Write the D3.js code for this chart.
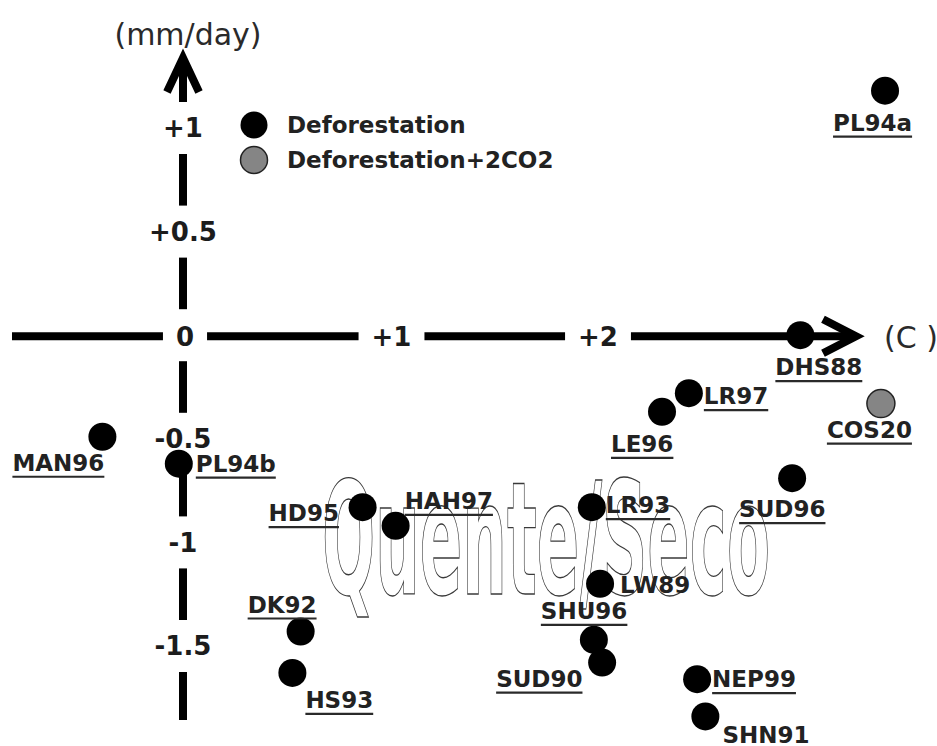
<!DOCTYPE html>
<html>
<head>
<meta charset="utf-8">
<script src="https://cdn.jsdelivr.net/npm/d3@7"></script>
<style>
  body { margin: 0; background: #fff; }
  svg { display: block; }
</style>
</head>
<body>
<svg width="937" height="746"></svg>
<script>
// model experiments: temperature change (C) vs rainfall change (mm/day)
const names = ['PL94a', 'MAN96', 'PL94b', 'HD95', 'HAH97', 'DK92', 'HS93', 'LR93', 'LW89',
  'SHU96', 'SUD90', 'NEP99', 'SHN91', 'LE96', 'LR97', 'DHS88', 'COS20', 'SUD96'];
const tempChange = [3.39, -0.40, -0.03, 0.86, 1.02, 0.56, 0.52, 1.97, 2.01,
  1.98, 2.02, 2.48, 2.52, 2.31, 2.44, 2.98, 3.37, 2.94];
const rainChange = [1.18, -0.49, -0.62, -0.83, -0.92, -1.43, -1.63, -0.83, -1.20,
  -1.47, -1.58, -1.66, -1.84, -0.37, -0.28, 0.0, -0.33, -0.69];
const experiment = [0, 0, 0, 0, 0, 0, 0, 0, 0, 0, 0, 0, 0, 0, 0, 0, 1, 0];
const plainLabels = ['LW89', 'SHN91'];

const seriesNames = ['Deforestation', 'Deforestation+2CO2'];
const xTicks = [0, 1, 2];
const xTickLabels = ['0', '+1', '+2'];
const yTicks = [1, 0.5, 0, -0.5, -1, -1.5];
const yTickLabels = ['+1', '+0.5', '0', '-0.5', '-1', '-1.5'];

// label offset from its dot (left edge, vertical centre)
const labelPlacement = {
  PL94a: [-52, 32], MAN96: [-90, 26], PL94b: [17, 0], HD95: [-94, 6],
  HAH97: [9, -25], DK92: [-53, -27], HS93: [13, 27], LR93: [14, -2],
  LW89: [20, 1], SHU96: [-53, -29], SUD90: [-106, 16], NEP99: [15, 0],
  SHN91: [17, 18], LE96: [-51, 32], LR97: [15, 3], DHS88: [-25, 32],
  COS20: [-54, 26], SUD96: [-53, 31]
};

const seriesColor = ['#000', '#858585'];
const ink = '#1c1c1c';

const x = d3.scaleLinear().domain([0, 2]).range([185, 598]);
const y = d3.scaleLinear().domain([-1.5, 1]).range([646, 128]);

const svg = d3.select('svg');
const x0 = x(0) - 2;
const y0 = y(0) + 1;

const data = names.map((name, i) => ({
  name,
  t: tempChange[i],
  r: rainChange[i],
  s: experiment[i]
}));

// watermark
svg.append('text')
  .attr('x', 322)
  .attr('y', 594)
  .attr('textLength', 448)
  .attr('lengthAdjust', 'spacingAndGlyphs')
  .style('font-family', '"Liberation Sans Narrow", "DejaVu Sans Condensed", "Liberation Sans", sans-serif')
  .style('font-weight', 'bold')
  .style('font-size', '156px')
  .attr('fill', 'none')
  .attr('stroke', '#3a3a3a')
  .attr('stroke-width', 1.3)
  .text('Quente/Seco');

// tick labels
const xt = svg.append('g')
  .selectAll('text')
  .data(xTicks)
  .join('text')
  .attr('x', d => x(d))
  .attr('y', y0)
  .attr('dy', '0.36em')
  .attr('text-anchor', 'middle')
  .style('font', 'bold 26px "DejaVu Sans", sans-serif')
  .attr('fill', ink)
  .text((d, i) => xTickLabels[i]);

const yt = svg.append('g')
  .selectAll('text')
  .data(yTicks.filter(d => d !== 0))
  .join('text')
  .attr('x', x0)
  .attr('y', d => y(d))
  .attr('dy', '0.36em')
  .attr('text-anchor', 'middle')
  .style('font', 'bold 26px "DejaVu Sans", sans-serif')
  .attr('fill', ink)
  .text(d => yTickLabels[yTicks.indexOf(d)]);

// axis segments broken around the tick labels
const axis = svg.append('g')
  .attr('stroke', '#000')
  .attr('stroke-width', 8)
  .attr('fill', 'none');

const xStops = [12];
xt.each(function (d) {
  const w = this.getBBox().width / 2 + 13;
  xStops.push(x(d) - w, x(d) + w);
});
xStops.push(856);
for (let i = 0; i < xStops.length; i += 2) {
  axis.append('line')
    .attr('x1', xStops[i]).attr('x2', xStops[i + 1])
    .attr('y1', y0).attr('y2', y0);
}

const yStops = [58];
yTicks.forEach(d => yStops.push(y(d) - 26, y(d) + 26));
yStops.push(720);
for (let i = 0; i < yStops.length; i += 2) {
  axis.append('line')
    .attr('x1', x0).attr('x2', x0)
    .attr('y1', yStops[i]).attr('y2', yStops[i + 1]);
}

axis.append('path')
  .attr('d', `M${x0 - 16},92 L${x0},58 L${x0 + 16},92`);
axis.append('path')
  .attr('d', `M823,${y0 - 17} L856,${y0} L823,${y0 + 17}`);

// axis titles
svg.append('text')
  .attr('x', 188).attr('y', 45)
  .attr('text-anchor', 'middle')
  .style('font', '30px "DejaVu Sans", sans-serif')
  .attr('fill', '#2a2a2a')
  .text('(mm/day)');

svg.append('text')
  .attr('x', 884).attr('y', y0 + 12)
  .style('font', '30px "DejaVu Sans", sans-serif')
  .attr('fill', '#2a2a2a')
  .text('(C )');

// legend
const legend = svg.append('g')
  .selectAll('g')
  .data(seriesNames)
  .join('g')
  .attr('transform', (d, i) => `translate(254,${125 + i * 35})`);

legend.append('circle')
  .attr('r', 13.5)
  .attr('fill', (d, i) => seriesColor[i])
  .attr('stroke', '#222')
  .attr('stroke-width', (d, i) => (i ? 1.5 : 0));

legend.append('text')
  .attr('x', 33)
  .attr('dy', '0.36em')
  .style('font', 'bold 23px "DejaVu Sans", sans-serif')
  .attr('fill', '#222')
  .text(d => d);

// points
svg.append('g')
  .selectAll('circle')
  .data(data)
  .join('circle')
  .attr('cx', d => x(d.t))
  .attr('cy', d => y(d.r))
  .attr('r', 14)
  .attr('fill', d => seriesColor[d.s])
  .attr('stroke', '#222')
  .attr('stroke-width', d => (d.s ? 1.5 : 0));

// point labels
const labels = svg.append('g')
  .selectAll('text')
  .data(data)
  .join('text')
  .attr('x', d => x(d.t) + labelPlacement[d.name][0])
  .attr('y', d => y(d.r) + labelPlacement[d.name][1])
  .attr('dy', '0.36em')
  .style('font', 'bold 23px "DejaVu Sans", sans-serif')
  .attr('fill', '#222')
  .text(d => d.name);

const underline = svg.append('g')
  .attr('stroke', '#2a2a2a')
  .attr('stroke-width', 2.2);

labels.each(function (d) {
  if (plainLabels.includes(d.name)) return;
  const b = this.getBBox();
  const ly = y(d.r) + labelPlacement[d.name][1] + 14;
  underline.append('line')
    .attr('x1', b.x).attr('x2', b.x + b.width)
    .attr('y1', ly).attr('y2', ly);
});
</script>
</body>
</html>
